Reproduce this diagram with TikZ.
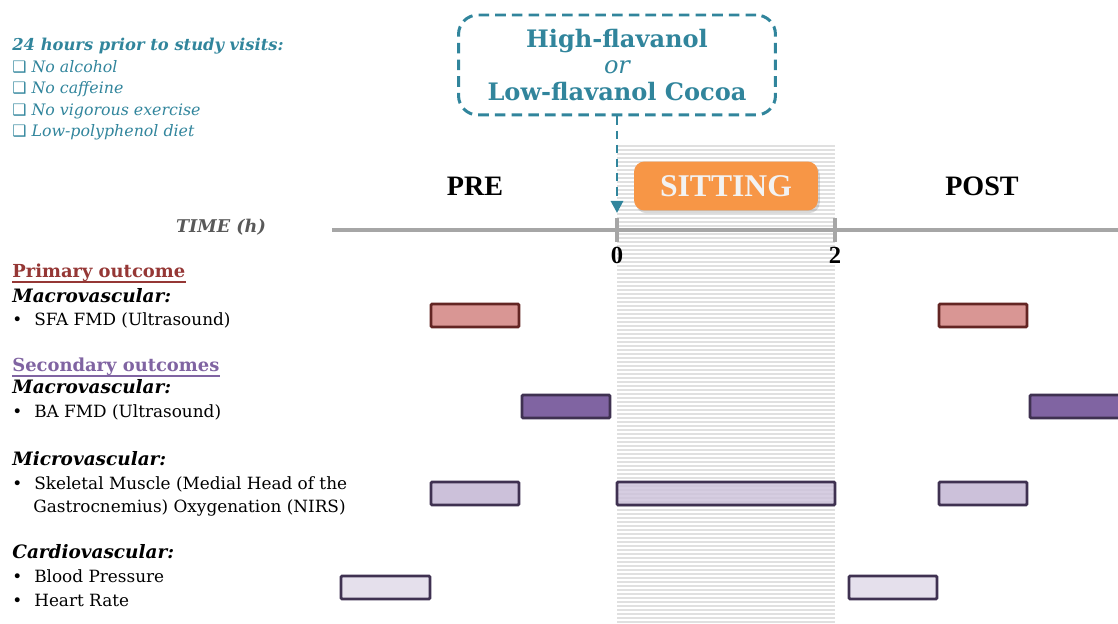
\documentclass[tikz,border=0pt]{standalone}
\usepackage{fontspec}
\setmainfont{DejaVu Serif}
\newfontfamily\timesfont{Liberation Serif}
\newfontfamily\dingfont{DejaVu Sans}
\usetikzlibrary{arrows.meta,positioning,shadows}
\definecolor{cocoateal}{RGB}{49,133,156}
\definecolor{sitorange}{RGB}{247,150,70}
\definecolor{primred}{RGB}{149,55,53}
\definecolor{secpurple}{RGB}{128,100,162}
\definecolor{sfafill}{RGB}{217,150,148}
\definecolor{sfaline}{RGB}{99,37,35}
\definecolor{bafill}{RGB}{128,100,162}
\definecolor{darkpurple}{RGB}{63,49,81}
\definecolor{nirsfill}{RGB}{204,193,218}
\definecolor{bpfill}{RGB}{229,224,236}
\definecolor{axisgray}{RGB}{166,166,166}

\begin{document}
\begin{tikzpicture}[x=0.02cm, y=-0.02cm,
  txt/.style={anchor=base west, inner sep=0pt, font=\fontsize{9.6}{12}\selectfont},
  cat/.style={txt, font=\fontsize{10.5}{12}\selectfont\bfseries\itshape},
  head/.style={txt, font=\fontsize{10.2}{12}\selectfont\bfseries},
  uline/.style={line width=0.9pt},
  prep/.style={txt, text=cocoateal, font=\fontsize{9}{12}\selectfont\itshape},
  phase/.style={anchor=base, inner sep=0pt, font=\fontsize{16}{18}\timesfont\bfseries},
  tick/.style={anchor=base, inner sep=0pt, font=\fontsize{14}{16}\timesfont\bfseries},
  axis/.style={axisgray, line width=2pt},
  hatch/.style={gray!24, line width=0.9pt},
  bar/.style={line width=1.6pt, rounded corners=0.6pt},
  arr/.style={-{Triangle[length=2.4mm,width=2.4mm]}, cocoateal, line width=1.6pt,
              dash pattern=on 5pt off 3pt}
]
\useasboundingbox (0,0) rectangle (1118,624);

% sitting period
\foreach \y in {146,150,...,622}
  \draw[hatch] (617,\y) -- (835,\y);

% time axis
\draw[axis] (332,230) -- (1118,230);
\draw[axis] (617,218) -- (617,242);
\draw[axis] (835,218) -- (835,242);
\coordinate (t0) at (617,213);
\node[tick] (zero) at (617,264) {0};
\node[tick] (two) at (835,264) {2};
\node[anchor=base, inner sep=0pt, text=black!65,
      font=\fontsize{10}{12}\selectfont\bfseries\itshape] (time) at (221,233) {TIME (h)};

\node[phase] (pre) at (475,196) {PRE};
\node[phase] (post) at (982,196) {POST};
\node[fill=sitorange, rounded corners=6pt, minimum width=3.68cm, minimum height=0.98cm,
      drop shadow={opacity=0.3, shadow xshift=1pt, shadow yshift=-1.5pt}] (sitting) at (726,186) {};
\node[anchor=base, inner sep=0pt, text=white!95!black,
      font=\fontsize{18}{20}\timesfont\bfseries] at (726,197) {SITTING};

% intervention
\node[draw=cocoateal, line width=1.7pt, dash pattern=on 6pt off 3.5pt, rounded corners=11pt,
      minimum width=6.34cm, minimum height=2cm, align=center, text=cocoateal,
      font=\fontsize{13.7}{15.5}\selectfont] (cocoa) at (617,65)
  {\textbf{High-flavanol}\\[-1pt]{\itshape or}\\\textbf{Low-flavanol Cocoa}};
\draw[arr] (cocoa) -- (t0);

% restrictions
\node[prep, font=\fontsize{9.3}{12}\selectfont\bfseries\itshape] (rule) at (12,51) {24 hours prior to study visits:};
\node[prep] (alc) at (12,73) {{\upshape\dingfont ❑} No alcohol};
\node[prep] (caf) at (12,94) {{\upshape\dingfont ❑} No caffeine};
\node[prep] (exe) at (12,116) {{\upshape\dingfont ❑} No vigorous exercise};
\node[prep] (diet) at (12,137) {{\upshape\dingfont ❑} Low-polyphenol diet};

% outcomes
\node[head, text=primred] (prim) at (12,278) {Primary outcome};
\draw[uline, primred] ([yshift=-2.4pt]prim.base west) -- ([yshift=-2.4pt]prim.base east);
\node[cat] (mac1) at (12,303) {Macrovascular:};
\node[txt] (sfa) at (12,326) {•\hspace{0.24cm}SFA FMD (Ultrasound)};

\node[head, text=secpurple] (sec) at (12,372) {Secondary outcomes};
\draw[uline, secpurple] ([yshift=-2.4pt]sec.base west) -- ([yshift=-2.4pt]sec.base east);
\node[cat] (mac2) at (12,394) {Macrovascular:};
\node[txt] (ba) at (12,418) {•\hspace{0.24cm}BA FMD (Ultrasound)};

\node[cat] (mic) at (12,465) {Microvascular:};
\node[txt] (nirs1) at (12,489) {•\hspace{0.24cm}Skeletal Muscle (Medial Head of the};
\node[txt] (nirs2) at (33,512) {Gastrocnemius) Oxygenation (NIRS)};

\node[cat] (card) at (12,558) {Cardiovascular:};
\node[txt] (bp) at (12,582) {•\hspace{0.24cm}Blood Pressure};
\node[txt] (hr) at (12,606) {•\hspace{0.24cm}Heart Rate};

% measurement bars
\draw[bar, draw=sfaline, fill=sfafill] (431,304) rectangle (519,327);
\draw[bar, draw=sfaline, fill=sfafill] (939,304) rectangle (1027,327);
\draw[bar, draw=darkpurple, fill=bafill] (522,395) rectangle (610,418);
\draw[bar, draw=darkpurple, fill=bafill] (1030,395) rectangle (1120,418);
\draw[bar, draw=darkpurple, fill=nirsfill] (431,482) rectangle (519,505);
\draw[bar, draw=darkpurple, fill=nirsfill, fill opacity=0.8] (617,482) rectangle (835,505);
\draw[bar, draw=darkpurple, fill=nirsfill] (939,482) rectangle (1027,505);
\draw[bar, draw=darkpurple, fill=bpfill] (341,576) rectangle (430,599);
\draw[bar, draw=darkpurple, fill=bpfill] (849,576) rectangle (937,599);
\end{tikzpicture}
\end{document}
